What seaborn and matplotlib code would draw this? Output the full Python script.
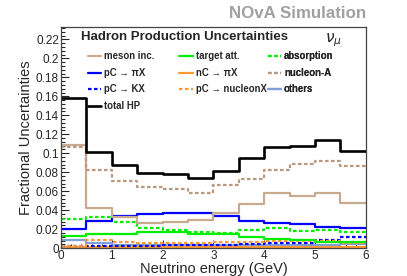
import numpy as np
import pandas as pd
import matplotlib
matplotlib.use('Agg')
import matplotlib.pyplot as plt
import seaborn as sns
from matplotlib.ticker import MultipleLocator

# bin edges (GeV) and per-bin fractional uncertainties
edges = [0, 0.5, 1, 1.5, 2, 2.5, 3, 3.5, 4, 4.5, 5, 5.5, 6]
meson_inc = [0.109, 0.0425, 0.033, 0.0267, 0.028, 0.0295, 0.0372, 0.0463, 0.0586, 0.0547, 0.0582, 0.0477]
target_att = [0.0126, 0.0147, 0.0154, 0.0172, 0.0165, 0.0144, 0.0144, 0.0112, 0.0091, 0.0081, 0.0067, 0.006]
absorption = [0.0312, 0.033, 0.0274, 0.0214, 0.019, 0.0168, 0.0161, 0.019, 0.0207, 0.0183, 0.0196, 0.0172]
pc_pix = [0.020, 0.029, 0.034, 0.036, 0.037, 0.0365, 0.0337, 0.0288, 0.026, 0.0253, 0.0225, 0.0207]
nc_pix = [0.0008, 0.0008, 0.0008, 0.0008, 0.0008, 0.0008, 0.0008, 0.0008, 0.0008, 0.0008, 0.0008, 0.0008]
nucleon_a = [0.1065, 0.0828, 0.0709, 0.0646, 0.0618, 0.0586, 0.0663, 0.0733, 0.082, 0.0884, 0.0919, 0.0863]
pc_kx = [0.002, 0.002, 0.0025, 0.0025, 0.003, 0.003, 0.003, 0.004, 0.005, 0.005, 0.0084, 0.0119]
pc_nucleonx = [0.002, 0.0084, 0.006, 0.0055, 0.005, 0.005, 0.006, 0.006, 0.0074, 0.007, 0.0077, 0.0056]
others = [0.009, 0.005, 0.003, 0.003, 0.003, 0.003, 0.003, 0.003, 0.003, 0.003, 0.003, 0.004]
total_hp = [0.158, 0.101, 0.088, 0.0797, 0.078, 0.074, 0.081, 0.0955, 0.1067, 0.1077, 0.1137, 0.102]

centers = [(a + b) / 2 for a, b in zip(edges[:-1], edges[1:])]

sns.set_style('ticks')
plt.rcParams['font.family'] = ['Liberation Sans', 'DejaVu Sans']

fig = plt.figure(figsize=(4.07, 2.76), dpi=100)
ax = fig.add_axes([0.150, 0.101, 0.749, 0.801])

dot = (0, (1.6, 1.1))
tan = '#c8aa90'
# (label, values, colour, linestyle, legend column)
series = [
    ('meson inc.', meson_inc, tan, '-', 0),
    ('pC \u2192 \u03c0X', pc_pix, '#0000ff', '-', 0),
    ('pC \u2192 KX', pc_kx, '#0000ff', dot, 0),
    ('total HP', total_hp, 'black', '-', 0),
    ('target att.', target_att, '#00ee00', '-', 1),
    ('nC \u2192 \u03c0X', nc_pix, '#ff9933', '-', 1),
    ('pC \u2192 nucleonX', pc_nucleonx, '#ff9933', dot, 1),
    ('absorption', absorption, '#00ee00', dot, 2),
    ('nucleon-A', nucleon_a, '#b8997f', dot, 2),
    ('others', others, '#7f9fd8', '-', 2),
]

draw_order = [9, 5, 2, 6, 4, 7, 1, 0, 8, 3]
handles = {}
for i in draw_order:
    lab, vals, col, ls, _ = series[i]
    df = pd.DataFrame({'x': centers, 'w': vals})
    lw = 1.9 if lab == 'total HP' else 1.6
    sns.histplot(data=df, x='x', weights='w', bins=edges, element='step',
                 fill=False, color=col, linestyle=ls, linewidth=lw, ax=ax)
    handles[lab] = plt.Line2D([], [], color=col, linestyle=ls, linewidth=lw)

ax.set_xlim(0, 6)
ax.set_ylim(0, 0.233)
ax.xaxis.set_major_locator(MultipleLocator(1))
ax.xaxis.set_minor_locator(MultipleLocator(0.2))
ax.yaxis.set_minor_locator(MultipleLocator(0.004))
ax.set_yticks(np.arange(0, 0.221, 0.02))
ax.set_yticklabels(['0'] + [f'{v:g}' for v in np.arange(0.02, 0.221, 0.02).round(2)])
ax.tick_params(which='major', direction='in', length=6, width=0.8, labelsize=8.5, pad=1.5)
ax.tick_params(which='minor', direction='in', length=3, width=0.8)
for s in ax.spines.values():
    s.set_color('#444444')
    s.set_linewidth(0.9)

ax.set_xlabel('Neutrino energy (GeV)', fontsize=10.5, labelpad=0)
ax.set_ylabel('Fractional Uncertainties', fontsize=10.5, labelpad=2)

ax.text(0.065, 0.955, 'Hadron Production Uncertainties', transform=ax.transAxes,
        fontsize=9.5, fontweight='bold', va='center', ha='left')
ax.text(0.895, 0.94, r'$\nu_{\mu}$', transform=ax.transAxes, fontsize=11,
        va='center', ha='center')
fig.text(0.90, 0.952, 'NOvA Simulation', color='#a0a0a0', fontsize=12.2,
         fontweight='bold', ha='right', va='center')

col_x = [0.088, 0.388, 0.678]
for c in range(3):
    items = [s[0] for s in series if s[4] == c]
    leg = ax.legend([handles[k] for k in items], items, frameon=False,
                    loc='upper left', bbox_to_anchor=(col_x[c], 0.89),
                    borderaxespad=0, borderpad=0,
                    prop={'size': 6.9, 'weight': 'bold'}, handlelength=1.4,
                    handletextpad=0.3, labelspacing=0.68)
    ax.add_artist(leg)

fig.savefig('out.png', dpi=100)
